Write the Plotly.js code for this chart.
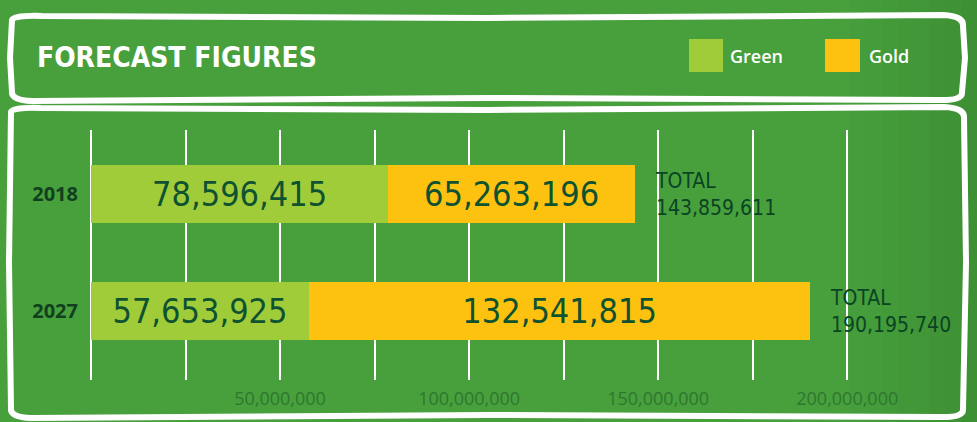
<!DOCTYPE html>
<html>
<head>
<meta charset="utf-8">
<script src="https://cdn.plot.ly/plotly-3.0.1.min.js"></script>
<style>html,body{margin:0;padding:0;background:#47a03c;}#chart{width:977px;height:422px;}</style>
</head>
<body>
<div id="chart"></div>
<script>
// ---- data ----
const years = ['2018', '2027'];
const greenValues = [78596415, 57653925];
const goldValues = [65263196, 132541815];
const seriesNames = ['Green', 'Gold'];
const tickValues = [50000000, 100000000, 150000000, 200000000];
const tickLabels = ['50,000,000', '100,000,000', '150,000,000', '200,000,000'];
const titleText = 'FORECAST FIGURES';

// ---- style ----
const W = 977, H = 422;
const M = {l: 91, r: 39, t: 130, b: 42};
const pw = W - M.l - M.r, ph = H - M.t - M.b;
const px = x => (x - M.l) / pw;
const py = y => 1 - (y - M.t) / ph;
const GREEN = '#a1cc3a', GOLD = '#fdc210', DARK = '#0e5230';
const handFont = '"DejaVu Sans Condensed", sans-serif';

const totals = greenValues.map((g, i) => g + goldValues[i]);
const fmt = v => v.toLocaleString('en-US');

const traces = [
  {type: 'bar', orientation: 'h', name: seriesNames[0], y: years, x: greenValues,
   marker: {color: GREEN}, text: greenValues.map(fmt), textposition: 'inside',
   insidetextanchor: 'middle', textfont: {family: handFont, size: 34, color: DARK},
   hoverinfo: 'x', showlegend: false, cliponaxis: false},
  {type: 'bar', orientation: 'h', name: seriesNames[1], y: years, x: goldValues,
   marker: {color: GOLD}, text: goldValues.map(fmt), textposition: 'inside',
   insidetextanchor: 'middle', textfont: {family: handFont, size: 34, color: DARK},
   hoverinfo: 'x', showlegend: false, cliponaxis: false}
];

// hand-drawn style boxes
function wobblyBox(x0, y0, x1, y1) {
  const p = (x, y) => px(x).toFixed(5) + ',' + py(y).toFixed(5);
  return 'M' + p(x0, y0 + 4) + ' Q' + p(x0 + 2, y0 - 1) + ' ' + p(x0 + 30, y0) +
    ' L' + p((x0 + x1) / 2, y0 + 2) + ' L' + p(x1 - 20, y0 - 1) +
    ' Q' + p(x1 + 1, y0) + ' ' + p(x1, y0 + 10) +
    ' L' + p(x1 + 2, (y0 + y1) / 2) + ' L' + p(x1 - 1, y1 - 8) +
    ' Q' + p(x1, y1 + 1) + ' ' + p(x1 - 25, y1) +
    ' L' + p((x0 + x1) / 2, y1 - 2) + ' L' + p(x0 + 20, y1 + 1) +
    ' Q' + p(x0 - 1, y1) + ' ' + p(x0, y1 - 8) +
    ' L' + p(x0 - 2, (y0 + y1) / 2) + ' Z';
}

const shapes = [];
// subtle darkening towards the right edge
for (let k = 0; k < 8; k++) {
  shapes.push({type: 'rect', xref: 'paper', yref: 'paper', x0: px(850 + k * 16), x1: px(980),
    y0: py(425), y1: py(-3), fillcolor: '#2a6e27', opacity: 0.045, line: {width: 0}, layer: 'below'});
}
shapes.push(
  {type: 'path', xref: 'paper', yref: 'paper', path: wobblyBox(12, 16, 963, 100),
   line: {color: 'white', width: 6}, fillcolor: 'rgba(0,0,0,0)', layer: 'below'},
  {type: 'path', xref: 'paper', yref: 'paper', path: wobblyBox(11, 108, 964, 417),
   line: {color: 'white', width: 6}, fillcolor: 'rgba(0,0,0,0)', layer: 'below'},
  // legend swatches
  {type: 'rect', xref: 'paper', yref: 'paper', x0: px(689), x1: px(723), y0: py(72), y1: py(39),
   fillcolor: GREEN, line: {width: 0}},
  {type: 'rect', xref: 'paper', yref: 'paper', x0: px(825), x1: px(860), y0: py(72), y1: py(39),
   fillcolor: GOLD, line: {width: 0}}
);

const annotations = [
  {xref: 'paper', yref: 'paper', x: px(728), y: py(56), xanchor: 'left', yanchor: 'middle',
   text: seriesNames[0], showarrow: false, font: {family: 'Open Sans', size: 18, color: 'white', weight: 600}},
  {xref: 'paper', yref: 'paper', x: px(867), y: py(56), xanchor: 'left', yanchor: 'middle',
   text: seriesNames[1], showarrow: false, font: {family: 'Open Sans', size: 18, color: 'white', weight: 600}}
];
totals.forEach((t, i) => {
  annotations.push({x: t, y: i, xref: 'x', yref: 'y', xanchor: 'left', yanchor: 'middle',
    xshift: 18, align: 'left', showarrow: false,
    text: 'TOTAL<br>' + fmt(t),
    font: {family: handFont, size: 21, color: '#0b4424'}});
});

const layout = {
  width: W, height: H,
  margin: M,
  paper_bgcolor: '#47a03c',
  plot_bgcolor: 'rgba(0,0,0,0)',
  title: {text: titleText, xref: 'container', yref: 'container', x: 37 / W, xanchor: 'left',
          y: 1 - 57 / H, yanchor: 'middle',
          font: {family: handFont, size: 28, color: 'white', weight: 'bold'}},
  barmode: 'stack',
  bargap: 0.5,
  showlegend: false,
  xaxis: {range: [0, 224000000], tickmode: 'array', tickvals: tickValues, ticktext: tickLabels,
          showgrid: true, gridcolor: 'white', gridwidth: 2,
          zeroline: true, zerolinecolor: 'white', zerolinewidth: 2,
          minor: {tickmode: 'linear', tick0: 0, dtick: 25000000, showgrid: true, gridcolor: 'white', gridwidth: 2},
          showline: false, ticks: '', ticklabelstandoff: 6,
          tickfont: {family: 'Open Sans', size: 18, color: '#2f7630'}, fixedrange: true},
  yaxis: {type: 'category', categoryorder: 'array', categoryarray: years,
          range: [1.59, -0.55], showgrid: false, zeroline: false, ticks: '',
          ticklabelstandoff: 12,
          tickfont: {family: 'Open Sans', size: 20, color: '#12401f', weight: 'bold'}, fixedrange: true},
  shapes: shapes,
  annotations: annotations
};

Plotly.newPlot('chart', traces, layout, {displayModeBar: false, staticPlot: true});
</script>
</body>
</html>
